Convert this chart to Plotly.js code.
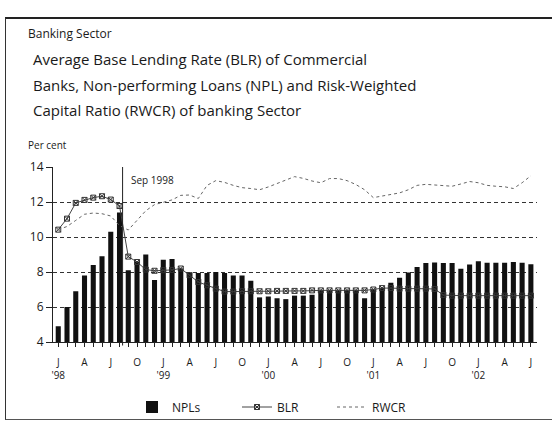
<!DOCTYPE html>
<html>
<head>
<meta charset="utf-8">
<script src="https://cdn.plot.ly/plotly-3.0.1.min.js"></script>
<style>
  html, body { margin: 0; padding: 0; background: #fff; }
  #wrap { position: relative; width: 552px; height: 423px; overflow: hidden; }
  #chart { position: absolute; left: 0; top: 0; width: 552px; height: 423px; }
  #frame { position: absolute; left: 5px; top: 17px; width: 560px; height: 400px;
           border-left: 1px solid #333; border-top: 2px solid #222; border-bottom: 1px solid #555;
           pointer-events: none; }
</style>
</head>
<body>
<div id="wrap">
  <div id="chart"></div>
  <div id="frame"></div>
</div>
<script>
// Months Jan 1998 - Jul 2002
const months = [
  "1998-01","1998-02","1998-03","1998-04","1998-05","1998-06","1998-07","1998-08","1998-09","1998-10","1998-11","1998-12",
  "1999-01","1999-02","1999-03","1999-04","1999-05","1999-06","1999-07","1999-08","1999-09","1999-10","1999-11","1999-12",
  "2000-01","2000-02","2000-03","2000-04","2000-05","2000-06","2000-07","2000-08","2000-09","2000-10","2000-11","2000-12",
  "2001-01","2001-02","2001-03","2001-04","2001-05","2001-06","2001-07","2001-08","2001-09","2001-10","2001-11","2001-12",
  "2002-01","2002-02","2002-03","2002-04","2002-05","2002-06","2002-07"
];

// Non-performing loans (per cent)
const npl = [
  4.9, 6.0, 6.9, 7.8, 8.4, 8.9, 10.3, 11.4, 8.1, 8.6, 9.0, 7.55,
  8.7, 8.75, 8.2, 7.95, 7.95, 7.95, 8.0, 7.95, 7.8, 7.8, 7.5, 6.55,
  6.6, 6.5, 6.45, 6.65, 6.65, 6.7, 6.95, 6.95, 6.95, 6.95, 6.95, 6.5,
  7.0, 7.1, 7.38, 7.67, 7.97, 8.29, 8.51, 8.55, 8.51, 8.52, 8.19, 8.43,
  8.62, 8.53, 8.53, 8.53, 8.57, 8.53, 8.44
];

// Average base lending rate (per cent)
const blr = [
  10.42, 11.05, 11.95, 12.12, 12.25, 12.33, 12.14, 11.77, 8.88, 8.57, 8.14, 8.07,
  8.1, 8.12, 8.2, 7.82, 7.43, 7.24, 7.05, 6.88, 6.88, 6.9, 6.9, 6.9,
  6.9, 6.92, 6.92, 6.92, 6.92, 6.95, 6.95, 6.95, 6.95, 6.95, 6.95, 6.95,
  7.0, 7.08, 7.08, 7.05, 7.05, 7.05, 7.05, 7.03, 6.68, 6.65, 6.65, 6.65,
  6.65, 6.65, 6.65, 6.65, 6.65, 6.65, 6.65
];

// Risk-weighted capital ratio (per cent)
const rwcr = [
  10.42, 10.6, 10.95, 11.3, 11.37, 11.33, 11.2, 10.65, 10.4, 10.95, 11.5, 11.85,
  12.0, 12.12, 12.38, 12.4, 12.2, 12.95, 13.22, 13.12, 12.95, 12.82, 12.77, 12.7,
  12.86, 13.05, 13.22, 13.45, 13.35, 13.2, 13.1, 13.34, 13.34, 13.22, 13.0, 12.7,
  12.25, 12.35, 12.45, 12.52, 12.7, 12.95, 13.01, 12.98, 12.94, 12.9, 13.03, 13.17,
  13.1, 12.95, 12.9, 12.87, 12.77, 13.1, 13.5
];

// Quarterly tick labels (Jan, Apr, Jul, Oct)
const quarterLabels = [
  "J<br>'98","A","J","O",
  "J<br>'99","A","J","O",
  "J<br>'00","A","J","O",
  "J<br>'01","A","J","O",
  "J<br>'02","A","J"
];

const seriesNames = ["NPLs", "BLR", "RWCR"];
const markerMonth = "Sep 1998";

const tickText = months.map((m, i) => (i % 3 === 0 ? quarterLabels[i / 3] : ""));

const FONT = "Open Sans, Liberation Sans, Arial, sans-serif";
const INK = "#1a1a1a";

const traces = [
  {
    type: "bar", name: seriesNames[0], x: months, y: npl,
    marker: { color: "#111" },
    legend: "legend"
  },
  {
    type: "scatter", mode: "lines+markers", name: seriesNames[1], x: months, y: blr,
    line: { color: "#444", width: 1 },
    marker: { symbol: "square-x-open", size: 5, color: "#333", line: { width: 1, color: "#333" } },
    legend: "legend2"
  },
  {
    type: "scatter", mode: "lines", name: seriesNames[2], x: months, y: rwcr,
    line: { color: "#666", width: 1, dash: "dot" },
    legend: "legend3"
  }
];

const plotTop = 167, plotBottom = 342, plotLeft = 53, plotRight = 537;
const ph = plotBottom - plotTop;
const py = (pix) => (plotBottom - pix) / ph;        // pixel y -> paper y
const px = (pix) => (pix - plotLeft) / (plotRight - plotLeft); // pixel x -> paper x

const legendBase = {
  orientation: "h", xanchor: "left", y: py(407), yanchor: "middle",
  font: { family: FONT, size: 12, color: INK }, bgcolor: "rgba(0,0,0,0)"
};

const layout = {
  width: 552, height: 423,
  margin: { l: plotLeft, r: 552 - plotRight, t: plotTop, b: 423 - plotBottom, autoexpand: false },
  paper_bgcolor: "#fff", plot_bgcolor: "#fff",
  font: { family: FONT, color: INK, size: 11 },
  showlegend: true,
  bargap: 0.42,
  xaxis: {
    type: "category",
    range: [-0.6, 54.7],
    tickvals: months, ticktext: tickText,
    tickangle: 0,
    ticks: "outside", ticklen: 4, tickcolor: "#222", tickwidth: 1,
    ticklabelstandoff: 7,
    showline: true, linecolor: "#222", linewidth: 1,
    showgrid: false, zeroline: false,
    tickfont: { family: FONT, size: 10, color: INK },
    fixedrange: true
  },
  yaxis: {
    range: [4, 14], dtick: 2, tick0: 4,
    ticks: "outside", ticklen: 6, tickcolor: "#222",
    showline: true, linecolor: "#222", linewidth: 1,
    showgrid: true, gridcolor: "#333", gridwidth: 1, griddash: "4px,3px",
    zeroline: false,
    tickfont: { family: FONT, size: 12, color: INK },
    fixedrange: true
  },
  legend: Object.assign({}, legendBase, { x: px(132) }),
  legend2: Object.assign({}, legendBase, { x: px(237) }),
  legend3: Object.assign({}, legendBase, { x: px(332) }),
  shapes: [
    { type: "line", xref: "x", yref: "paper", x0: 7.35, x1: 7.35, y0: -0.02, y1: 1,
      line: { color: "#222", width: 1 } }
  ],
  annotations: [
    { text: markerMonth, xref: "x", yref: "paper", x: 8.1, y: py(180), xanchor: "left", yanchor: "middle",
      showarrow: false, font: { family: FONT, size: 10, color: INK } },
    { text: "Banking Sector", xref: "paper", yref: "paper", x: px(26), y: py(33), xanchor: "left", yanchor: "middle",
      showarrow: false, font: { family: FONT, size: 12, color: INK } },
    { text: "Average Base Lending Rate (BLR) of Commercial", xref: "paper", yref: "paper", x: px(31), y: py(59),
      xanchor: "left", yanchor: "middle", showarrow: false, font: { family: FONT, size: 15, color: INK } },
    { text: "Banks, Non-performing Loans (NPL) and Risk-Weighted", xref: "paper", yref: "paper", x: px(31), y: py(85),
      xanchor: "left", yanchor: "middle", showarrow: false, font: { family: FONT, size: 15, color: INK } },
    { text: "Capital Ratio (RWCR) of banking Sector", xref: "paper", yref: "paper", x: px(31), y: py(110),
      xanchor: "left", yanchor: "middle", showarrow: false, font: { family: FONT, size: 15, color: INK } },
    { text: "Per cent", xref: "paper", yref: "paper", x: px(26), y: py(145), xanchor: "left", yanchor: "middle",
      showarrow: false, font: { family: FONT, size: 10, color: INK } }
  ]
};

Plotly.newPlot("chart", traces, layout, { displayModeBar: false, staticPlot: true });
</script>
</body>
</html>
